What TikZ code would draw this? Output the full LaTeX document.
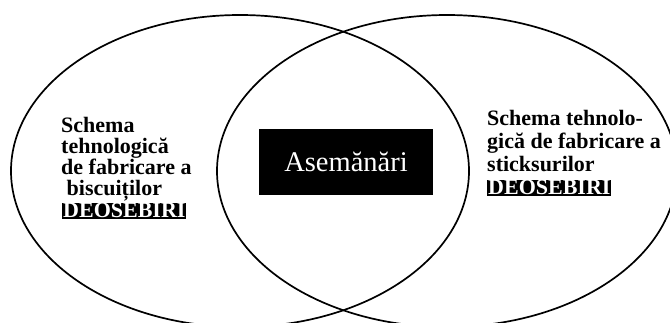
\documentclass[tikz,border=0pt]{standalone}
\usepackage{fontspec}
\setmainfont{Liberation Serif}
\begin{document}
\begin{tikzpicture}[x=1pt,y=-1pt,
  venn/.style={line width=1.7pt},
  bodytext/.style={align=left, anchor=base west, inner sep=0pt},
  hilite/.style={font=\fontsize{22}{22}\selectfont\bfseries, fill=black, text=white, anchor=base west, inner xsep=1pt, inner ysep=0.5pt},
  simbox/.style={fill=black, text=white, minimum width=174pt, minimum height=66pt, font=\fontsize{28.5}{30}\selectfont, inner sep=0pt}]
\useasboundingbox (0,0) rectangle (670,323);
\clip (0,0) rectangle (670,323);
\draw[venn] (240,171) ellipse [x radius=229, y radius=156];
\draw[venn] (447,171) ellipse [x radius=230, y radius=156];
\node[simbox] (sim) at (346,162) {Asemănări};
\node[bodytext, font=\fontsize{22}{21}\selectfont\bfseries] (lefttext) at (61,196) {Schema\\tehnologică\\de fabricare a\\\ biscuiților};
\node[hilite] (leftdif) at (62,218) {DEOSEBIRI};
\node[bodytext, font=\fontsize{22}{23}\selectfont\bfseries] (righttext) at (487,172) {Schema tehnolo-\\gică de fabricare a\\sticksurilor};
\node[hilite] (rightdif) at (487,195) {DEOSEBIRI};
\end{tikzpicture}
\end{document}
